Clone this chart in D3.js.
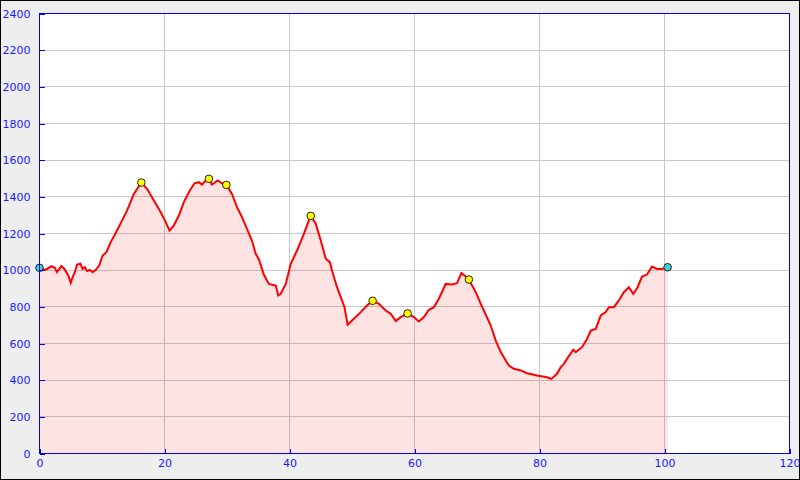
<!DOCTYPE html>
<html><head><meta charset="utf-8">
<script src="https://cdn.jsdelivr.net/npm/d3@7/dist/d3.min.js"></script>
<style>body{margin:0;background:#fff}svg{display:block}</style>
</head><body>
<svg id="c" width="800" height="480"></svg>
<script>
const distKm = [0,0.6,1.1,1.9,2.45,2.8,3.5,4.05,4.6,5.0,5.3,5.65,6.0,6.55,6.9,7.25,7.6,8.05,8.5,9.0,9.55,10.1,10.7,11.4,12.4,13.2,14.0,15.1,16.3,17.2,18.3,19.4,20.2,20.8,21.5,22.3,23.1,24.05,24.8,25.5,26.0,26.6,27.1,27.6,28.5,29.2,29.9,30.8,31.6,32.4,33.2,34.0,34.6,35.1,35.9,36.7,37.8,38.2,38.6,39.4,40.2,41.2,42.3,43.1,43.4,44.2,45.0,45.8,46.45,46.8,47.6,48.4,48.8,49.3,50.3,51.4,52.4,53.3,54.3,55.4,56.2,57.0,57.8,58.9,59.9,60.7,61.5,62.3,63.1,63.9,65.0,66.0,66.8,67.5,68.2,68.7,69.8,70.6,71.1,72.2,73.0,73.8,74.6,75.1,75.9,77.0,78.0,79.6,81.2,81.9,82.8,83.4,83.9,84.4,85.4,85.8,86.8,87.6,88.2,89.0,89.8,90.6,91.1,91.9,92.7,93.5,94.3,95.0,95.7,96.4,97.2,98.0,98.8,99.6,100.5];
const elevation = [1013,1004,1004,1022,1013,989,1022,1004,971,931,962,989,1031,1035,1007,1016,995,1002,989,1002,1025,1080,1098,1153,1216,1270,1325,1416,1478,1444,1380,1316,1262,1216,1244,1298,1371,1435,1474,1480,1467,1489,1498,1467,1489,1474,1465,1416,1344,1289,1225,1160,1089,1060,975,925,916,862,871,925,1035,1107,1198,1271,1296,1253,1162,1062,1044,998,907,835,798,702,735,771,807,833,816,780,762,722,744,764,744,720,744,784,798,844,925,922,929,984,965,949,880,816,780,698,616,553,507,480,462,453,438,425,416,407,435,471,489,516,566,553,580,625,671,680,753,771,798,798,835,880,907,871,907,965,976,1020,1007,1007,1016];
const waypointKm = [16.3,27.1,29.9,43.4,53.3,58.9,68.7];
const waypointElev = [1478,1498,1465,1296,833,764,949];
const endpointKm = [0,100.5];
const endpointElev = [1013,1016];
const xTicks = [0,20,40,60,80,100,120];
const yTicks = [0,200,400,600,800,1000,1200,1400,1600,1800,2000,2200,2400];

const data = distKm.map((d,i)=>({x:d,y:elevation[i]}));
const svg = d3.select("#c");
const x = d3.scaleLinear().domain([0,120]).range([39.5,789.5]);
const y = d3.scaleLinear().domain([0,2400]).range([453.5,13.5]);

svg.append("rect").attr("x",0.5).attr("y",0.5).attr("width",799).attr("height",479)
  .attr("fill","#eeeeee").attr("stroke","#000").attr("stroke-width",1);
svg.append("rect").attr("x",x(0)).attr("y",y(2400)).attr("width",x(120)-x(0)).attr("height",y(0)-y(2400)).attr("fill","#fff");

const grid = svg.append("g").attr("stroke","#c8c8c8").attr("stroke-width",1).attr("shape-rendering","crispEdges");
grid.selectAll(".gy").data(yTicks.filter(v=>v>0&&v<2400)).join("line")
  .attr("x1",x(0)).attr("x2",x(120)).attr("y1",d=>y(d)).attr("y2",d=>y(d));
grid.selectAll(".gx").data(xTicks.filter(v=>v>0&&v<120)).join("line")
  .attr("y1",y(0)).attr("y2",y(2400)).attr("x1",d=>x(d)).attr("x2",d=>x(d));

const area = d3.area().x(d=>x(d.x)).y0(y(0)).y1(d=>y(d.y));
svg.append("path").datum(data).attr("d",area).attr("fill","rgba(255,0,0,0.11)");
const line = d3.line().x(d=>x(d.x)).y(d=>y(d.y));
svg.append("path").datum(data).attr("d",line).attr("fill","none").attr("stroke","#ff0000").attr("stroke-width",2).attr("stroke-linejoin","miter");

svg.append("g").selectAll("circle").data(waypointKm.map((d,i)=>[d,waypointElev[i]])).join("circle")
  .attr("cx",d=>x(d[0])).attr("cy",d=>y(d[1])).attr("r",3.8).attr("fill","#ffff00").attr("stroke","#222").attr("stroke-width",1);
svg.append("g").selectAll("circle").data(endpointKm.map((d,i)=>[d,endpointElev[i]])).join("circle")
  .attr("cx",d=>x(d[0])).attr("cy",d=>y(d[1])).attr("r",3.8).attr("fill","#3cd2dc").attr("stroke","#222").attr("stroke-width",1);

svg.append("rect").attr("x",x(0)).attr("y",y(2400)).attr("width",x(120)-x(0)).attr("height",y(0)-y(2400))
  .attr("fill","none").attr("stroke","#0000ff").attr("stroke-width",1).attr("shape-rendering","crispEdges");

const yAxis = svg.append("g").attr("transform",`translate(${x(0)},0)`)
  .call(d3.axisLeft(y).tickValues(yTicks).tickSize(-5).tickPadding(9).tickFormat(d3.format("d")));
const xAxis = svg.append("g").attr("transform",`translate(0,${y(0)})`)
  .call(d3.axisBottom(x).tickValues(xTicks).tickSize(-5).tickPadding(6).tickFormat(d3.format("d")));
[yAxis,xAxis].forEach(a=>{
  a.select(".domain").remove();
  a.selectAll("line").attr("stroke","#0000ff").attr("shape-rendering","crispEdges");
  a.selectAll("text").attr("fill","#1a1aff").style("font-family","DejaVu Sans").style("font-size","11px");
});
</script>
</body></html>
